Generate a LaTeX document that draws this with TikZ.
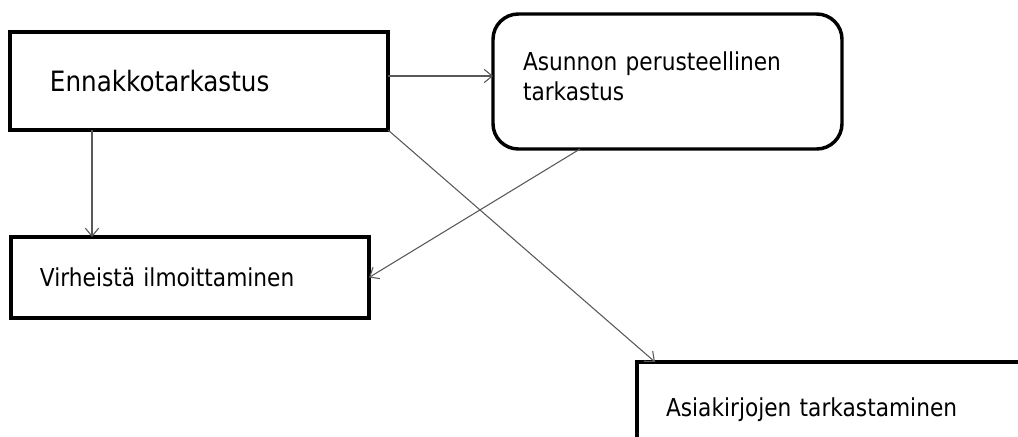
\documentclass[tikz,border=0pt]{standalone}
\usepackage{fontspec}
\setmainfont{DejaVu Sans}[FakeStretch=0.88]
\usepackage{tikz}
\usetikzlibrary{arrows.meta}

\tikzset{
  box/.style={draw, line width=2.6pt, outer sep=0pt, anchor=north west, align=left,
    font=\fontsize{18.5}{22.5}\selectfont},
  arr/.style={-{Straight Barb[length=6pt,width=10pt]}, draw=black!65, line width=0.8pt}
}

\begin{document}
\begin{tikzpicture}[x=0.75pt,y=-0.75pt]
\useasboundingbox (0,0) rectangle (1018,436);
\clip (0,0) rectangle (1018,436);
\fill[white] (0,0) rectangle (1018,436);
\node[box, inner xsep=30pt, text width=223.5pt, minimum height=73.5pt,
  font=\fontsize{21}{25}\selectfont] (E) at (10,32) {Ennakkotarkastus};
\node[box, rounded corners=19pt, inner xsep=22.5pt, text width=216.75pt, minimum height=101.25pt,
  text depth=30pt] (A) at (493,14)
  {Asunnon perusteellinen\\tarkastus};
\node[box, inner xsep=21.75pt, text width=225pt, minimum height=60.75pt] (V) at (11,237) {Virheistä ilmoittaminen};
\node[box, inner xsep=21.75pt, text width=271.5pt, minimum height=72pt] (K) at (637,362) {Asiakirjojen tarkastaminen};
\draw[arr] ([yshift=3.75pt]E.east) -- ([yshift=3.75pt]E.east -| A.west);
\draw[arr] ([xshift=61.5pt]E.south west) -- ([xshift=61.5pt]E.south west |- V.north);
\draw[arr] (E.south east) -- ([xshift=13.5pt]K.north west);
\draw[arr] ([xshift=65.25pt]A.south west) -- (V.east);
\end{tikzpicture}
\end{document}
